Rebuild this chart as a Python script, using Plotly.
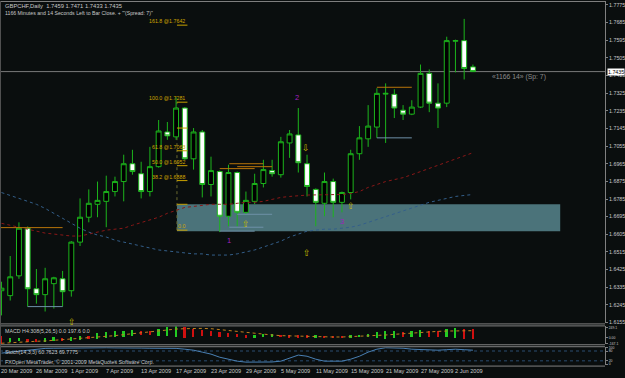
import plotly.graph_objects as go
import pandas as pd

# ---------------- data ----------------
dates = pd.bdate_range("2009-03-20", "2009-06-04")
cats = [d.strftime("%Y-%m-%d") for d in dates]

open_ = [1.6317, 1.6292, 1.6393, 1.6636, 1.6327, 1.6297, 1.6353, 1.6378, 1.6317, 1.6565,
         1.6692, 1.6758, 1.6773, 1.6823, 1.6874, 1.6965, 1.6914, 1.6823, 1.6950, 1.7127,
         1.7102, 1.7249, 1.6990, 1.7127, 1.6859, 1.6925, 1.6697, 1.6920, 1.6717, 1.6773,
         1.6864, 1.6930, 1.6909, 1.7071, 1.7112, 1.6965, 1.6834, 1.6763, 1.6874, 1.6768,
         1.6818, 1.7016, 1.7092, 1.7152, 1.7320, 1.7319, 1.7238, 1.7218, 1.7254, 1.7426,
         1.7274, 1.7274, 1.7590, 1.7593, 1.7459]
high = [1.6363, 1.6494, 1.6666, 1.6645, 1.6428, 1.6434, 1.6388, 1.6418, 1.6570, 1.6788,
        1.6834, 1.6874, 1.6904, 1.6899, 1.7011, 1.7036, 1.6975, 1.7051, 1.7188, 1.7178,
        1.7304, 1.7254, 1.7147, 1.7137, 1.7001, 1.6930, 1.6960, 1.6925, 1.6823, 1.6914,
        1.6985, 1.6985, 1.7102, 1.7137, 1.7249, 1.7011, 1.6839, 1.6920, 1.6889, 1.6823,
        1.7036, 1.7157, 1.7264, 1.7350, 1.7375, 1.7345, 1.7264, 1.7289, 1.7471, 1.7446,
        1.7375, 1.7613, 1.7598, 1.7704, 1.7471]
low = [1.6191, 1.6267, 1.6378, 1.6236, 1.6251, 1.6211, 1.6226, 1.6236, 1.6287, 1.6545,
       1.6666, 1.6692, 1.6641, 1.6798, 1.6773, 1.6909, 1.6788, 1.6798, 1.6945, 1.7087,
       1.7087, 1.6985, 1.6935, 1.6793, 1.6798, 1.6616, 1.6646, 1.6646, 1.6707, 1.6758,
       1.6844, 1.6899, 1.6894, 1.6995, 1.6920, 1.6798, 1.6646, 1.6697, 1.6692, 1.6717,
       1.6783, 1.6985, 1.7051, 1.7097, 1.7071, 1.7198, 1.7188, 1.7213, 1.7249, 1.7228,
       1.7147, 1.7254, 1.7431, 1.7395, 1.7433]
close = [1.6330, 1.6388, 1.6636, 1.6327, 1.6297, 1.6378, 1.6383, 1.6312, 1.6565, 1.6692,
         1.6763, 1.6778, 1.6823, 1.6874, 1.6965, 1.6925, 1.6823, 1.6950, 1.7132, 1.7107,
         1.7249, 1.6990, 1.7127, 1.6859, 1.6930, 1.6697, 1.6920, 1.6717, 1.6778, 1.6864,
         1.6935, 1.6914, 1.7077, 1.7117, 1.6970, 1.6849, 1.6768, 1.6874, 1.6768, 1.6818,
         1.7016, 1.7097, 1.7157, 1.7324, 1.7324, 1.7249, 1.7218, 1.7254, 1.7426, 1.7274,
         1.7249, 1.7593, 1.7593, 1.7451, 1.7435]

ma_red = [1.6661, 1.6651, 1.6641, 1.6631, 1.6621, 1.6611, 1.6606, 1.6601, 1.6596, 1.6596,
          1.6606, 1.6616, 1.6626, 1.6631, 1.6636, 1.6651, 1.6666, 1.6677, 1.6692, 1.6712,
          1.6727, 1.6742, 1.6747, 1.6753, 1.6758, 1.6758, 1.6758, 1.6763, 1.6768, 1.6768,
          1.6773, 1.6783, 1.6793, 1.6798, 1.6803, 1.6805, 1.6806, 1.6806, 1.6807, 1.6808,
          1.6813, 1.6823, 1.6844, 1.6859, 1.6874, 1.6884, 1.6894, 1.6909, 1.6925, 1.6940,
          1.6955, 1.6975, 1.6990, 1.7006, 1.7021]
ma_blue = [1.6818, 1.6803, 1.6788, 1.6773, 1.6758, 1.6737, 1.6712, 1.6687, 1.6661, 1.6636,
           1.6616, 1.6601, 1.6591, 1.6575, 1.6565, 1.6555, 1.6545, 1.6535, 1.6525, 1.6520,
           1.6515, 1.6510, 1.6505, 1.6505, 1.6499, 1.6499, 1.6499, 1.6505, 1.6515, 1.6525,
           1.6540, 1.6555, 1.6570, 1.6591, 1.6606, 1.6621, 1.6626, 1.6631, 1.6631, 1.6636,
           1.6641, 1.6651, 1.6666, 1.6682, 1.6697, 1.6712, 1.6727, 1.6742, 1.6753, 1.6768,
           1.6778, 1.6788, 1.6798, 1.6803, 1.6808]

macd_hi = [17, -25, -25, -42, -42, -25, -8, -25, 0, 17, 33, 100, 117, 142, 158, 183, 158, 142,
           208, 242, 267, 242, 208, 183, 158, 125, 100, 75, 58, 58, 75, 75, 58, 42, 42, 42, 42,
           33, 33, 33, 42, 58, 83, 117, 158, 142, 125, 142, 167, 158, 142, 200, 225, 208, 208]
macd_lo = [-175, -133, -108, -125, -125, -125, -108, -108, -92, -75, -58, -42, -25, -8, -8, 17,
           42, 58, 17, 17, -8, -25, -8, 17, 17, -8, -8, -8, -25, -25, -8, -8, -8, -8, -8, -8,
           -25, -8, -8, -8, -8, -8, -8, -25, -42, -25, -8, -8, -8, -8, -8, -8, -25, -58, -58]
macd_up = [0, 1, 1, 0, 0, 1, 1, 0, 1, 1, 0, 1, 1, 1, 1, 1, 0, 0, 1, 1, 1, 0, 0, 0, 0, 0, 0,
           0, 0, 1, 1, 1, 0, 0, 0, 0, 1, 0, 0, 0, 1, 1, 1, 1, 1, 1, 0, 1, 1, 0, 0, 1, 1, 0, 0]
macd_signal = [-150, -133, -125, -108, -100, -92, -75, -58, -50, -33, -25, 0, 17, 42, 67, 92,
               117, 142, 167, 192, 208, 217, 225, 225, 217, 192, 167, 142, 117, 92, 75, 58, 42,
               33, 25, 17, 8, 8, 8, 8, 17, 17, 25, 42, 58, 75, 92, 108, 125, 142, 150, 158,
               167, 167, 167]
stoch = [67, 73, 79, 85, 91, 96, 97, 98, 98, 99, 99, 100, 100, 99, 100, 99, 98, 97, 97, 97,
         96, 91, 85, 73, 61, 42, 30, 18, 12, 11, 12, 13, 18, 36, 55, 48, 30, 18, 16, 18, 30,
         48, 73, 91, 100, 99, 97, 91, 88, 85, 85, 88, 91, 88, 85]

price_ticks = [round(1.6155 + 0.009 * k, 4) for k in range(19)]
last_price = 1.7435

fib_levels = [1.7672, 1.7279, 1.7147, 1.7031, 1.6955, 1.6879, 1.6758, 1.6626]
fib_texts = ["161.8 @1.7642", "100.0 @1.7281", "", "61.8 @1.7063", "50.0 @1.6952",
             "38.2 @1.6888", "", "0.0"]
fib_x = (20.1, 21.3)

zone = dict(x0=20.1, x1=64.0, y0=1.6621, y1=1.6758)

orange_segs = [(-0.2, 7.0, 1.6639), (26.1, 30.0, 1.6965), (27.0, 31.0, 1.6950),
               (25.0, 29.0, 1.6940), (43.0, 47.0, 1.7355)]
slate_segs = [(3.0, 7.0, 1.6236), (27.0, 31.0, 1.6707), (26.1, 30.0, 1.6641),
              (25.0, 29.0, 1.6621), (43.0, 47.0, 1.7097)]

wave_labels = [(26.1, 1.6575, "1"), (33.9, 1.7304, "2"), (39.0, 1.6671, "3")]
arrows = [(8.1, 1.6160, "⇧"), (28.0, 1.6656, "⇧"), (34.9, 1.7046, "⇩"),
          (40.0, 1.6747, "⇧"), (35.0, 1.6510, "⇧")]

# ---------------- style ----------------
W, H = 625, 378
BG = "#0a0e0e"
GREEN = "#1cb41c"
GRID = "#808080"
TXT = "#c8c8c8"
FONT = "Liberation Sans"


def py(px):
    return 1 - px / H


XR = [-0.17, 69.13]
XD = [0, 605 / W]

fig = go.Figure()

fig.add_trace(go.Scatter(x=cats, y=ma_red, mode="lines", line=dict(color="#8a1818", width=1, dash="dot"),
                         hoverinfo="skip"))
fig.add_trace(go.Scatter(x=cats, y=ma_blue, mode="lines", line=dict(color="#345f8a", width=1, dash="dot"),
                         hoverinfo="skip"))
fig.add_trace(go.Candlestick(x=cats, open=open_, high=high, low=low, close=close,
                             increasing=dict(line=dict(color=GREEN, width=1), fillcolor="#000000"),
                             decreasing=dict(line=dict(color=GREEN, width=1), fillcolor="#ffffff"),
                             whiskerwidth=0))

# MACD panel
fig.add_trace(go.Bar(x=cats, y=[h - l for h, l in zip(macd_hi, macd_lo)], base=macd_lo, width=0.2,
                     marker=dict(color=["#22cc22" if u else "#d01010" for u in macd_up], line=dict(width=0)),
                     xaxis="x", yaxis="y2"))
fig.add_trace(go.Scatter(x=cats, y=macd_signal, mode="lines", line=dict(color="#c08020", width=1, dash="dot"),
                         xaxis="x", yaxis="y2"))

# Stochastic panel
fig.add_trace(go.Scatter(x=cats, y=stoch, mode="lines", line=dict(color="#4a80b4", width=1),
                         xaxis="x", yaxis="y3"))

shapes = []
shapes.append(dict(type="rect", xref="x", yref="y", layer="below", line=dict(width=0),
                   fillcolor="#4b737a", **zone))
shapes.append(dict(type="line", xref="paper", yref="y", x0=0, x1=XD[1], y0=last_price, y1=last_price,
                   line=dict(color="#7a7a7a", width=1), layer="below"))
for lv in fib_levels:
    shapes.append(dict(type="line", xref="x", yref="y", x0=fib_x[0], x1=fib_x[1], y0=lv, y1=lv,
                       line=dict(color="#c8a000", width=1)))
shapes.append(dict(type="line", xref="x", yref="y", x0=fib_x[0], x1=fib_x[0], y0=fib_levels[-1],
                   y1=fib_levels[1], line=dict(color="#6a6a30", width=1, dash="dot"), layer="below"))
for x0, x1, yv in orange_segs:
    shapes.append(dict(type="line", xref="x", yref="y", x0=x0, x1=x1, y0=yv, y1=yv,
                       line=dict(color="#b8740a", width=1)))
for x0, x1, yv in slate_segs:
    shapes.append(dict(type="line", xref="x", yref="y", x0=x0, x1=x1, y0=yv, y1=yv,
                       line=dict(color="#6e90a8", width=1)))
for lv in (80, 20):
    shapes.append(dict(type="line", xref="x", yref="y3", x0=XR[0], x1=XR[1], y0=lv, y1=lv,
                       line=dict(color="#2a4c70", width=1, dash="dot"), layer="below"))
for ypx in (0.5, 325.5, 327.5, 346.5, 348.5, 368.0):
    shapes.append(dict(type="line", xref="paper", yref="paper", x0=0, x1=XD[1], y0=py(ypx), y1=py(ypx),
                       line=dict(color=GRID, width=1)))
shapes.append(dict(type="line", xref="paper", yref="paper", x0=0.0008, x1=0.0008, y0=py(368), y1=py(0),
                   line=dict(color="#505050", width=1)))

ann = []
ann.append(dict(x=3 / W, y=py(5.5), xref="paper", yref="paper", xanchor="left", yanchor="middle",
                text="GBPCHF,Daily  1.7459 1.7471 1.7433 1.7435", showarrow=False,
                font=dict(family=FONT, size=5.8, color=TXT)))
ann.append(dict(x=3 / W, y=py(12.5), xref="paper", yref="paper", xanchor="left", yanchor="middle",
                text="1166 Minutes and 14 Seconds Left to Bar Close. + \"'(Spread: 7)\"", showarrow=False,
                font=dict(family=FONT, size=5.2, color=TXT)))
for lv, t in zip(fib_levels, fib_texts):
    if t:
        ann.append(dict(x=fib_x[1], y=lv, xref="x", yref="y", xanchor="right", yanchor="bottom", text=t,
                        showarrow=False, font=dict(family=FONT, size=5.3, color="#d0a400"), yshift=-1))
for xv, yv, t in wave_labels:
    ann.append(dict(x=xv, y=yv, xref="x", yref="y", text=t, showarrow=False,
                    font=dict(family=FONT, size=7.5, color="#a020c0")))
for xv, yv, t in arrows:
    ann.append(dict(x=xv, y=yv, xref="x", yref="y", text=t, showarrow=False,
                    font=dict(family="DejaVu Sans", size=9, color="#c8bc00")))
ann.append(dict(x=56.0, y=1.7405, xref="x", yref="y", xanchor="left", text="«1166 14» (Sp: 7)",
                showarrow=False, font=dict(family=FONT, size=6.8, color="#8c8c8c")))
ann.append(dict(x=XD[1] + 1.5 / W, y=last_price, xref="paper", yref="y", xanchor="left", yanchor="middle",
                text="1.7435", showarrow=False, bgcolor="#ffffff", borderpad=0,
                font=dict(family=FONT, size=5.3, color="#000000")))
ann.append(dict(x=3 / W, y=py(333), xref="paper", yref="paper", xanchor="left", yanchor="middle",
                text="MACD H4:308(5,26,5) 0.0 197.6 0.0", showarrow=False,
                font=dict(family=FONT, size=5.3, color=TXT)))
ann.append(dict(x=3 / W, y=py(354), xref="paper", yref="paper", xanchor="left", yanchor="middle",
                text="Stoch(14,3,3) 60.7623 69.7775", showarrow=False,
                font=dict(family=FONT, size=5.3, color=TXT)))
ann.append(dict(x=3 / W, y=py(363.5), xref="paper", yref="paper", xanchor="left", yanchor="middle",
                text="FXOpen MetaTrader, © 2001-2009 MetaQuotes Software Corp.", showarrow=False,
                font=dict(family=FONT, size=5.3, color=TXT)))
for i in range(0, len(dates), 4):
    d = dates[i]
    ann.append(dict(x=cats[i], y=py(373), xref="x", yref="paper", xanchor="left", yanchor="middle",
                    text=f"{d.day} {d.strftime('%b %Y')}", showarrow=False, xshift=-2,
                    font=dict(family=FONT, size=5.6, color=TXT)))

axis_common = dict(showgrid=False, zeroline=False, side="right", anchor="x", ticks="outside", ticklen=2,
                   tickcolor=GRID, showline=True, linecolor=GRID, linewidth=1,
                   tickfont=dict(family=FONT, size=5.3, color=TXT))
small_axis = dict(axis_common, tickfont=dict(family=FONT, size=3.4, color=TXT))

fig.update_layout(
    width=W, height=H, margin=dict(l=0, r=0, t=0, b=0),
    paper_bgcolor=BG, plot_bgcolor=BG, showlegend=False, bargap=0, boxgap=0.2,
    xaxis=dict(type="category", domain=XD, range=XR, showgrid=False, zeroline=False,
               showticklabels=False, ticks="", showline=False, anchor="y3",
               rangeslider=dict(visible=False)),
    yaxis=dict(domain=[py(325), 1], range=[1.61502, 1.77952], tickvals=price_ticks,
               ticktext=[f"{v:.4f}" for v in price_ticks], **axis_common),
    yaxis2=dict(domain=[py(346), py(328)], range=[-175, 275], tickvals=[249.1, 0, -167.1],
                ticktext=["249.1", "0.00", "-167.1"], **small_axis),
    yaxis3=dict(domain=[py(367), py(349)], range=[-6, 103], tickvals=[100, 80, 20, 0],
                ticktext=["100", "80", "20", "0"], **small_axis),
    shapes=shapes, annotations=ann,
)

fig.write_html("out.html")
